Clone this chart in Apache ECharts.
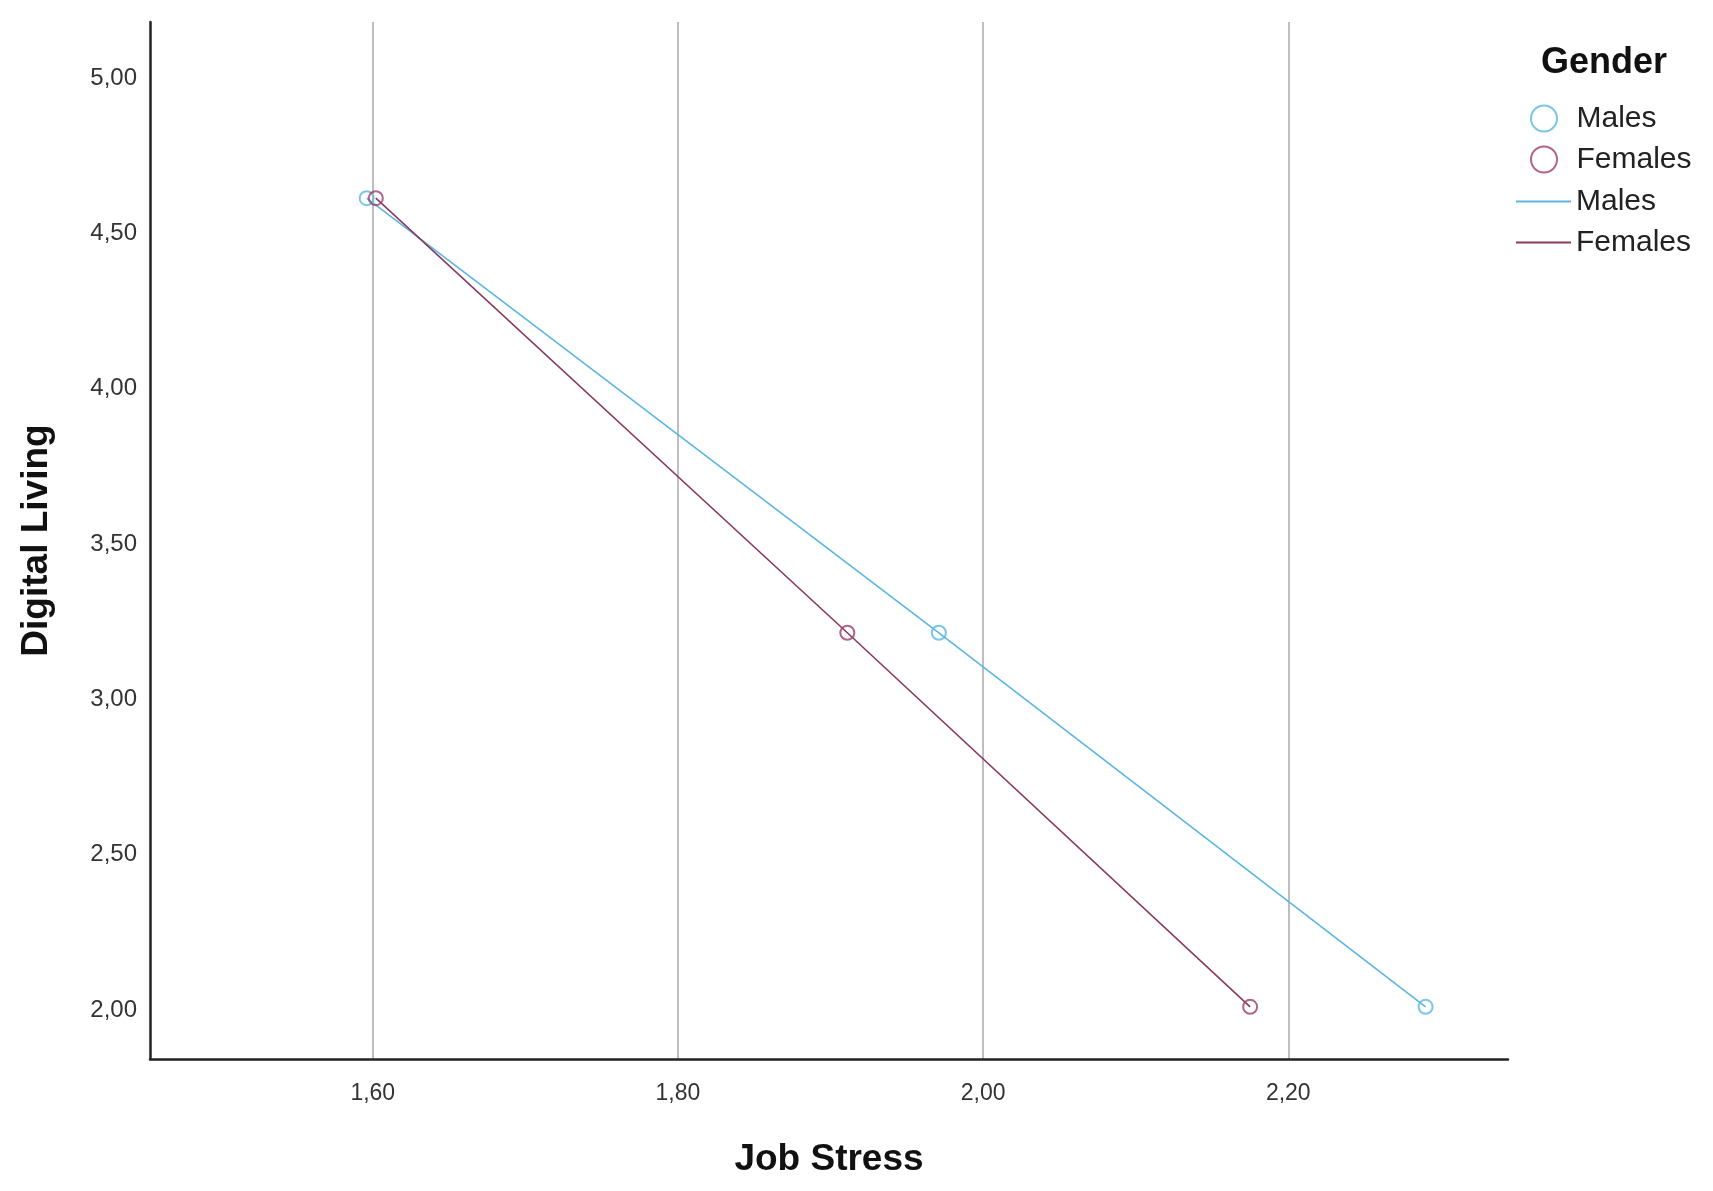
<!DOCTYPE html>
<html>
<head>
<meta charset="utf-8">
<script src="https://cdn.jsdelivr.net/npm/echarts@6/dist/echarts.min.js"></script>
<style>
html,body{margin:0;padding:0;background:#fff;}
#chart{width:1713px;height:1191px;}
</style>
</head>
<body>
<div id="chart"></div>
<script>
// Data
const malesX = [1.596, 1.971, 2.290];
const malesY = [4.613, 3.214, 2.010];
const femalesX = [1.602, 1.911, 2.175];
const femalesY = [4.613, 3.214, 2.010];
const xTicks = [1.6, 1.8, 2.0, 2.2];
const yTicks = [2.0, 2.5, 3.0, 3.5, 4.0, 4.5, 5.0];
const xRange = [1.454, 2.344];
const yRange = [1.842, 5.180];

const maleColor = '#5ab6e2';
const femaleColor = '#9c4069';
const femaleLine = '#8a3a5e';
const fmt = v => Number(v).toFixed(2).replace('.', ',');
const pts = (xs, ys) => xs.map((x, i) => [x, ys[i]]);
const legendText = {fontFamily: 'Liberation Sans', fontSize: 30, color: '#222', lineHeight: 31};

const chart = echarts.init(document.getElementById('chart'));
chart.setOption({
  animation: false,
  backgroundColor: '#ffffff',
  title: {
    text: 'Gender', left: 1536, top: 40,
    textStyle: {fontFamily: 'Liberation Sans', fontWeight: 'bold', fontSize: 36, color: '#111'}
  },
  legend: [
    {
      orient: 'vertical', left: 1525, top: 98,
      itemWidth: 55, itemHeight: 26, itemGap: 10,
      textStyle: legendText,
      formatter: n => n.trim(),
      data: ['Males', 'Females']
    },
    {
      orient: 'vertical', left: 1511, top: 181,
      itemWidth: 55, itemHeight: 2, itemGap: 10, icon: 'rect',
      textStyle: legendText,
      formatter: n => n.trim(),
      data: ['Males ', 'Females ']
    }
  ],
  grid: {left: 150, top: 22, right: 205, bottom: 132, containLabel: false},
  xAxis: {
    type: 'value', min: xRange[0], max: xRange[1],
    name: 'Job Stress', nameLocation: 'middle', nameGap: 82,
    nameTextStyle: {fontFamily: 'Liberation Sans', fontWeight: 'bold', fontSize: 37, color: '#111'},
    axisLine: {show: true, lineStyle: {color: '#222', width: 2.5}},
    axisTick: {show: false, customValues: xTicks},
    axisLabel: {customValues: xTicks, formatter: fmt, margin: 23, fontFamily: 'Liberation Sans', fontSize: 23, color: '#333'},
    splitLine: {show: true, lineStyle: {color: '#a9a9a9', width: 1.5}}
  },
  yAxis: {
    type: 'value', min: yRange[0], max: yRange[1],
    name: 'Digital Living', nameLocation: 'middle', nameGap: 95, nameRotate: 90,
    nameTextStyle: {fontFamily: 'Liberation Sans', fontWeight: 'bold', fontSize: 37, color: '#111'},
    axisLine: {show: true, lineStyle: {color: '#222', width: 2.5}},
    axisTick: {show: false, customValues: yTicks},
    axisLabel: {customValues: yTicks, formatter: fmt, margin: 13, fontFamily: 'Liberation Sans', fontSize: 24, color: '#333'},
    splitLine: {show: false}
  },
  series: [
    {
      name: 'Males ', type: 'line', data: pts(malesX, malesY), symbol: 'none',
      lineStyle: {color: maleColor, width: 1.6}, itemStyle: {color: maleColor}, z: 2
    },
    {
      name: 'Females ', type: 'line', data: pts(femalesX, femalesY), symbol: 'none',
      lineStyle: {color: femaleLine, width: 1.6}, itemStyle: {color: femaleLine}, z: 2
    },
    {
      name: 'Males', type: 'scatter', data: pts(malesX, malesY), symbol: 'circle', symbolSize: 14,
      itemStyle: {color: 'rgba(255,255,255,0)', borderColor: maleColor, borderWidth: 2}, z: 3
    },
    {
      name: 'Females', type: 'scatter', data: pts(femalesX, femalesY), symbol: 'circle', symbolSize: 14,
      itemStyle: {color: 'rgba(255,255,255,0)', borderColor: femaleColor, borderWidth: 2}, z: 3
    }
  ]
});
</script>
</body>
</html>
